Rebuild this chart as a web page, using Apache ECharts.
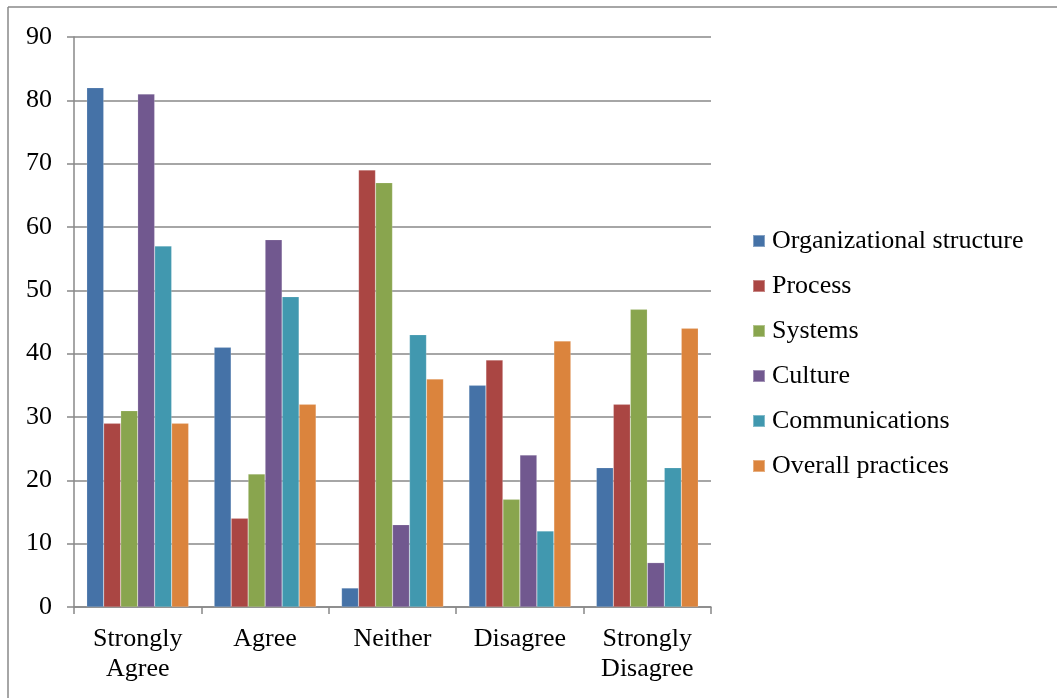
<!DOCTYPE html>
<html>
<head>
    <meta charset="utf-8">
    <title>Responses by category</title>
    <style>
        html, body { margin: 0; padding: 0; background: #fff; }
        #main { width: 1057px; height: 698px; }
    </style>
</head>
<body>
    <div id="main"></div>
    <script type="text/javascript" src="https://cdn.jsdelivr.net/npm/echarts@6/dist/echarts.min.js"></script>
    <script>
        var categories = ['Strongly\nAgree', 'Agree', 'Neither', 'Disagree', 'Strongly\nDisagree'];
        var seriesNames = ['Organizational structure', 'Process', 'Systems', 'Culture', 'Communications', 'Overall practices'];
        var orgStructure = [82, 41, 3, 35, 22];
        var processData = [29, 14, 69, 39, 32];
        var systemsData = [31, 21, 67, 17, 47];
        var cultureData = [81, 58, 13, 24, 7];
        var commsData = [57, 49, 43, 12, 22];
        var overallData = [29, 32, 36, 42, 44];
        var yTicks = [0, 10, 20, 30, 40, 50, 60, 70, 80, 90];

        var colors = ['#4572A7', '#AA4643', '#89A54E', '#71588F', '#4198AF', '#DB843D'];
        var allData = [orgStructure, processData, systemsData, cultureData, commsData, overallData];
        var font = '"Liberation Serif", "Times New Roman", serif';

        var chart = echarts.init(document.getElementById('main'), null, { renderer: 'canvas' });

        var series = seriesNames.map(function (name, i) {
            return {
                name: name,
                type: 'bar',
                data: allData[i],
                barGap: '0%',
                barCategoryGap: '20%',
                itemStyle: { color: colors[i], borderColor: 'rgba(255,255,255,0.35)', borderWidth: 0.5 }
            };
        });

        var option = {
            animation: false,
            backgroundColor: '#fff',
            textStyle: { fontFamily: font, color: '#000' },
            graphic: [
                { type: 'line', shape: { x1: 8, y1: 7, x2: 1057, y2: 7 }, style: { stroke: '#888', lineWidth: 1.5 } },
                { type: 'line', shape: { x1: 8, y1: 7, x2: 8, y2: 698 }, style: { stroke: '#888', lineWidth: 1.5 } }
            ],
            legend: {
                orient: 'vertical',
                left: 747,
                top: 223,
                itemWidth: 12,
                itemHeight: 12,
                itemGap: 19,
                icon: 'rect',
                data: seriesNames,
                textStyle: { fontFamily: font, fontSize: 26, color: '#000', lineHeight: 26, padding: [0, 0, 0, 2] }
            },
            grid: { left: 74, right: 346, top: 37, bottom: 91, containLabel: false },
            xAxis: {
                type: 'category',
                data: categories,
                axisLine: { lineStyle: { color: '#888', width: 1.5 } },
                axisTick: { show: true, length: 7, lineStyle: { color: '#888', width: 1.5 } },
                axisLabel: { fontFamily: font, fontSize: 26, color: '#000', lineHeight: 30, margin: 17, interval: 0 }
            },
            yAxis: {
                type: 'value',
                min: yTicks[0],
                max: yTicks[yTicks.length - 1],
                interval: 10,
                axisLine: { show: true, lineStyle: { color: '#888', width: 1.5 } },
                axisTick: { show: true, length: 7, lineStyle: { color: '#888', width: 1.5 } },
                axisLabel: { fontFamily: font, fontSize: 26, color: '#000', margin: 22 },
                splitLine: { lineStyle: { color: '#888', width: 1.5 } }
            },
            series: series
        };

        chart.setOption(option);
    </script>
</body>
</html>
